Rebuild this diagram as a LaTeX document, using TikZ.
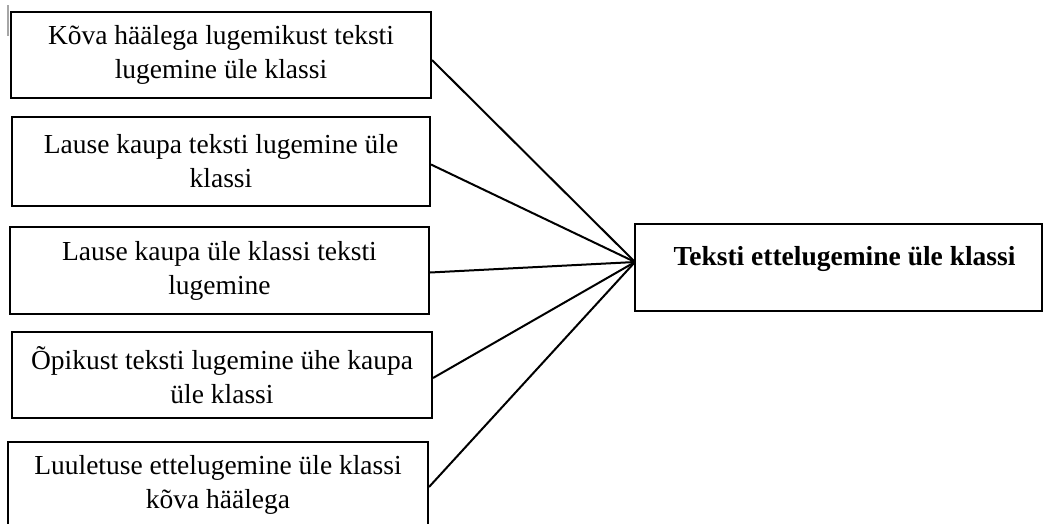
\documentclass[tikz,border=0pt]{standalone}
\usepackage{fontspec}
\setmainfont{Liberation Serif}
\begin{document}
\begin{tikzpicture}[x=1pt,y=-1pt,
  every node/.style={font=\fontsize{27.5}{34}\selectfont},
  srcbox/.style={draw, line width=2pt, minimum width=420pt, minimum height=86pt, inner sep=0pt, align=center},
  goalbox/.style={draw, line width=2pt, minimum width=407pt, minimum height=87pt, inner sep=0pt},
  link/.style={line width=2pt}]
\fill[white] (0,0) rectangle (1043,523);
\useasboundingbox (0,0) rectangle (1043,523);
\draw[gray!70, line width=1.5pt] (8,5) -- (8,36);
\node[srcbox] (b1) at (221,55) {Kõva häälega lugemikust teksti\\lugemine üle klassi};
\node[srcbox, minimum width=418pt, minimum height=89pt] (b2) at (221,161.5) {Lause kaupa teksti lugemine üle\\klassi};
\node[srcbox, minimum width=419pt, minimum height=87pt] (b3) at (219.5,270.5) {Lause kaupa üle klassi teksti\\lugemine};
\node[srcbox] (b4) at (222,375) {Õpikust teksti lugemine ühe kaupa\\üle klassi};
\node[srcbox] (b5) at (218,485) {Luuletuse ettelugemine üle klassi\\kõva häälega};
\node[goalbox] (goal) at (838.5,267.5) {};
\node[font=\fontsize{27.5}{34}\selectfont\bfseries, inner sep=0pt] (goaltext) at (844.5,259) {Teksti ettelugemine üle klassi};
\coordinate (hub) at (635,262);
\draw[link] ([yshift=-5pt]b1.east) -- (hub);
\draw[link] ([yshift=-3pt]b2.east) -- (hub);
\draw[link] ([yshift=-2pt]b3.east) -- (hub);
\draw[link] ([yshift=-3pt]b4.east) -- (hub);
\draw[link] ([yshift=-2pt]b5.east) -- (hub);
\end{tikzpicture}
\end{document}
